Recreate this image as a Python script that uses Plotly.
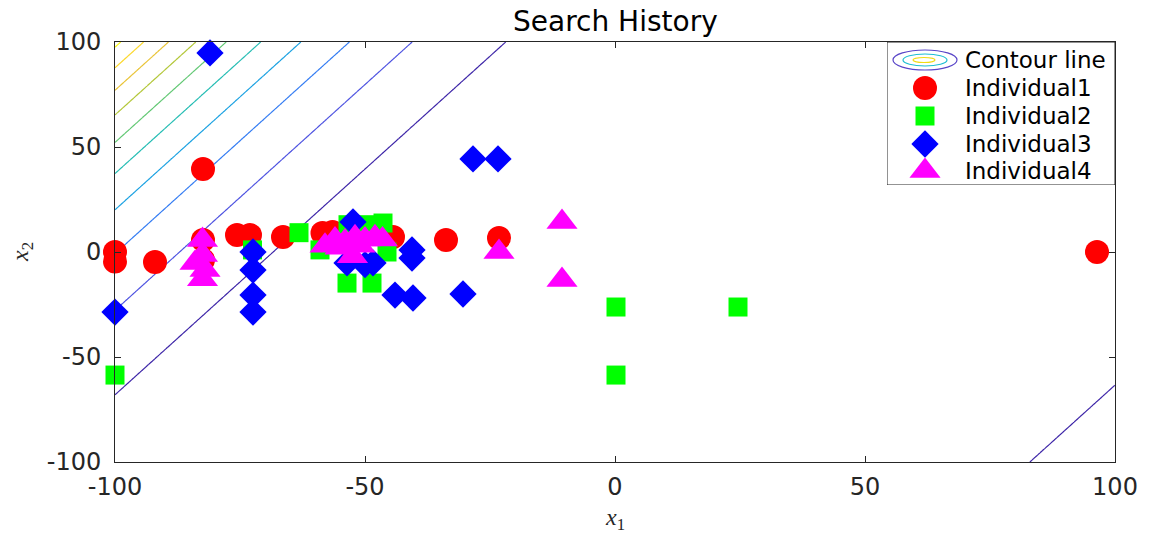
import numpy as np
import plotly.graph_objects as go

# ---- search history of the four individuals ----
ind1_x = [-100, -100, -92, -82.4, -82.4, -82.4, -75.6, -73, -66.4, -58.5, -56.5, -53, -44.4, -33.8, -23.2, 96.4]
ind1_y = [0, -4.5, -4.8, 39.5, 5.7, -3.8, 8.1, 8.1, 7.1, 9, 9.5, 8, 7.1, 5.7, 6.7, 0]

ind2_x = [-100, -63.2, -72.5, -53.4, -50, -46.4, -59, -45.6, -53.6, -48.6, 0.2, 0.2, 24.6]
ind2_y = [-58.6, 9.2, 1, 13, 13, 13.8, 1, 0, -14.8, -14.8, -26.2, -58.6, -26.2]

ind3_x = [-81, -100, -72.4, -72.4, -72.4, -72.4, -52.4, -53.6, -50, -48.4, -40.6, -40.6, -44, -40.4, -30.4, -28.4, -23.4]
ind3_y = [94.8, -28.6, 0, -8.6, -20.5, -28.6, 14.3, -5.2, -6, -5.2, 1, -2.9, -20.5, -21.9, -20, 44.3, 44.3]

ind4_x = [-82.5, -82.5, -84, -82, -82.5, -58, -56, -54, -52, -50, -48, -46.5, -55, -51, -52.5, -23.2, -10.6, -10.6]
ind4_y = [5.7, -1.4, -5.2, -8.6, -13, 3, 6, 5, 7, 6, 7, 6, 2, 3, -2, 0, 14.3, -13.3]

tick_vals = [-100, -50, 0, 50, 100]
tick_text = ["-100", "-50", "0", "50", "100"]
legend_names = ["Contour line", "Individual1", "Individual2", "Individual3", "Individual4"]

# ---- objective surface for the contour lines ----
g = np.linspace(-100, 100, 401)
X1, X2 = np.meshgrid(g, g)
Z = ((X2 - 2.15 * X1 + 65.7) / 212.7) ** 4

parula = [
    [0.0, "rgb(62,38,168)"],
    [0.12, "rgb(80,88,230)"],
    [0.25, "rgb(46,135,247)"],
    [0.38, "rgb(18,177,214)"],
    [0.5, "rgb(55,200,151)"],
    [0.65, "rgb(171,199,57)"],
    [0.82, "rgb(254,195,56)"],
    [1.0, "rgb(249,251,21)"],
]

TICK_FONT = dict(family="DejaVu Sans", size=24, color="#262626")
AX = "#262626"

fig = go.Figure()

fig.add_trace(go.Contour(
    x=g, y=g, z=Z,
    colorscale=parula, zauto=False, zmin=0, zmax=10.26,
    autocontour=False,
    contours=dict(coloring="lines", start=1, end=10, size=1, showlabels=False),
    line=dict(width=1.2),
    showscale=False, hoverinfo="skip", showlegend=False,
))

styles = [
    (ind1_x, ind1_y, "circle", 24, "#ff0000"),
    (ind2_x, ind2_y, "square", 19, "#00ff00"),
    (ind3_x, ind3_y, "diamond", 21, "#0000ff"),
    (ind4_x, ind4_y, "triangle-up", 27, "#ff00ff"),
]
for (xs, ys, sym, sz, col), name in zip(styles, legend_names[1:]):
    fig.add_trace(go.Scatter(
        x=xs, y=ys, mode="markers", name=name,
        marker=dict(symbol=sym, size=sz, color=col, line=dict(width=0)),
        cliponaxis=False, showlegend=False,
    ))

# ---- hand-built legend in its own little axis (pixel-like units, y downward) ----
leg_rows = [18, 46, 74, 102, 129]
for (xs, ys, sym, sz, col), name, yy in zip(styles, legend_names[1:], leg_rows[1:]):
    fig.add_trace(go.Scatter(
        x=[38], y=[yy], mode="markers", xaxis="x2", yaxis="y2",
        marker=dict(symbol=sym, size=sz, color=col, line=dict(width=0)),
        showlegend=False, hoverinfo="skip",
    ))

shapes = [
    dict(type="rect", xref="x2", yref="y2", x0=0, x1=228, y0=0, y1=143,
         line=dict(color=AX, width=1), fillcolor="rgba(0,0,0,0)", layer="above"),
    dict(type="circle", xref="x2", yref="y2", x0=6, x1=70, y0=8, y1=28,
         line=dict(color="rgb(90,70,200)", width=1.2)),
    dict(type="circle", xref="x2", yref="y2", x0=16, x1=60, y0=12, y1=24,
         line=dict(color="rgb(30,190,210)", width=1.2)),
    dict(type="circle", xref="x2", yref="y2", x0=26, x1=48, y0=15.5, y1=20.5,
         line=dict(color="rgb(240,220,20)", width=1.2)),
]

annotations = [
    dict(text=name, x=76, y=yy, xref="x2", yref="y2", xanchor="left", yanchor="middle",
         showarrow=False, font=dict(family="DejaVu Sans", size=23, color="#000000"))
    for name, yy in zip(legend_names, leg_rows)
]
annotations += [
    dict(text="<i>x</i><sub>1</sub>", x=0.5, y=(462 - 519) / 420, xref="paper", yref="paper",
         xanchor="center", yanchor="middle", showarrow=False,
         font=dict(family="Liberation Serif", size=24, color="#262626")),
    dict(text="<i>x</i><sub>2</sub>", x=-0.093, y=0.5, xref="paper", yref="paper",
         xanchor="center", yanchor="middle", showarrow=False, textangle=-90,
         font=dict(family="Liberation Serif", size=24, color="#262626")),
    dict(text="Search History", x=0.5, y=(462 - 22) / 420, xref="paper", yref="paper",
         xanchor="center", yanchor="middle", showarrow=False,
         font=dict(family="DejaVu Sans", size=28, color="#000000")),
]

fig.update_layout(
    width=1154, height=535,
    margin=dict(l=115, r=39, t=42, b=73),
    paper_bgcolor="white", plot_bgcolor="white",
    showlegend=False,
    shapes=shapes, annotations=annotations,
    xaxis=dict(range=[-100, 100], tickvals=tick_vals, ticktext=tick_text,
               ticks="inside", ticklen=6, tickcolor=AX, showline=True, linecolor=AX,
               linewidth=1, mirror="ticks", showgrid=False, zeroline=False,
               tickfont=TICK_FONT, ticklabelstandoff=3),
    yaxis=dict(range=[-100, 100], tickvals=tick_vals, ticktext=tick_text,
               ticks="inside", ticklen=6, tickcolor=AX, showline=True, linecolor=AX,
               linewidth=1, mirror="ticks", showgrid=False, zeroline=False,
               tickfont=TICK_FONT, ticklabelstandoff=8),
    xaxis2=dict(domain=[0.772, 1.0], range=[0, 228], anchor="y2", visible=False,
                fixedrange=True),
    yaxis2=dict(domain=[(462 - 185) / 420, 1.0], range=[143, 0], anchor="x2",
                visible=False, fixedrange=True),
)

fig.write_html("out.html")
